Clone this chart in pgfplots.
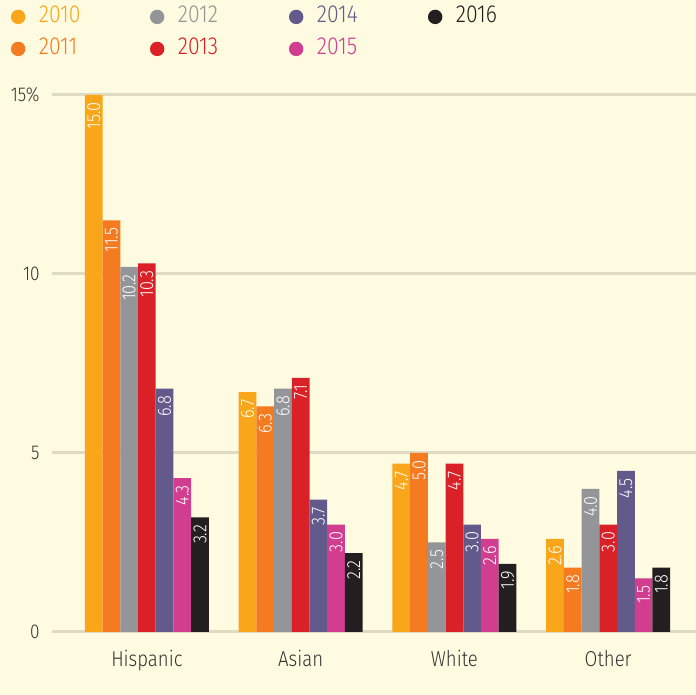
\documentclass[border=0pt]{standalone}
\usepackage{fontspec}
\setmainfont{Fira Sans}[UprightFont=* Light, FakeStretch=0.86]
\usepackage{pgfplots}
\pgfplotsset{compat=1.18}
\definecolor{bg}{HTML}{FFFBE0}
\definecolor{gridc}{HTML}{DEDBC4}
\definecolor{txt}{HTML}{333333}
\definecolor{c2010}{HTML}{F9A61A}
\definecolor{c2011}{HTML}{F47B20}
\definecolor{c2012}{HTML}{939598}
\definecolor{c2013}{HTML}{DA2128}
\definecolor{c2014}{HTML}{635A8C}
\definecolor{c2015}{HTML}{D23E8F}
\definecolor{c2016}{HTML}{231F20}
\pgfplotsset{/pgfplots/ybar legend/.style={/pgfplots/legend image code/.code={\fill[##1] (3.6pt,0pt) circle (3.6pt);}}}
\newcommand{\legtxt}[2]{\hspace*{6.8pt}\makebox[55.5pt][l]{\textcolor{#1}{#2}}}
\begin{document}
\begin{tikzpicture}
\fill[bg] (-26pt,-31.5pt) rectangle (322pt,316pt);
\begin{axis}[
  scale only axis, width=322pt, height=268.5pt,
  at={(0,0)}, anchor=south west,
  xmin=-0.617, xmax=3.571, ymin=0, ymax=15,
  enlargelimits=false, clip=false,
  ybar=0pt, bar width=8.85pt,
  axis line style={draw=none}, major tick length=0pt,
  ymajorgrids, grid style={gridc, line width=1.5pt},
  ytick={0,5,10,15}, yticklabels={0,5,10,15\%},
  yticklabel style={font=\fontsize{10}{11}\selectfont, text=txt, inner sep=0pt, anchor=east, xshift=-6pt},
  xtick={0,1,2,3}, xticklabels={Hispanic,Asian,White,Other},
  xticklabel style={font=\fontsize{10.8}{12}\selectfont, text=txt, inner sep=0pt, anchor=north, yshift=-9pt},
  /pgf/number format/assume math mode=true,
  nodes near coords={\pgfmathprintnumber[fixed,fixed zerofill,precision=1]{\pgfplotspointmeta}},
  every node near coord/.append style={rotate=90, anchor=east, text=white, inner xsep=3.5pt, inner ysep=1pt, font=\fontsize{9.5}{10}\selectfont},
  legend columns=2, transpose legend,
  legend style={at={(-0.0637,1.164)}, anchor=north west, draw=none, fill=none, inner sep=0pt, outer sep=0pt,
    column sep=0pt, row sep=6pt, font=\fontsize{12.3}{13}\selectfont,
    nodes={inner sep=0pt, text height=8pt, text depth=2pt}},
  legend cell align=left,
]
\addplot[fill=c2010, draw=none] coordinates {(0,15.0) (1,6.7) (2,4.7) (3,2.6)};
\addplot[fill=c2011, draw=none] coordinates {(0,11.5) (1,6.3) (2,5.0) (3,1.8)};
\addplot[fill=c2012, draw=none] coordinates {(0,10.2) (1,6.8) (2,2.5) (3,4.0)};
\addplot[fill=c2013, draw=none] coordinates {(0,10.3) (1,7.1) (2,4.7) (3,3.0)};
\addplot[fill=c2014, draw=none] coordinates {(0,6.8) (1,3.7) (2,3.0) (3,4.5)};
\addplot[fill=c2015, draw=none] coordinates {(0,4.3) (1,3.0) (2,2.6) (3,1.5)};
\addplot[fill=c2016, draw=none] coordinates {(0,3.2) (1,2.2) (2,1.9) (3,1.8)};
\legend{\legtxt{c2010}{2010},\legtxt{c2011}{2011},\legtxt{c2012}{2012},\legtxt{c2013}{2013},\legtxt{c2014}{2014},\legtxt{c2015}{2015},\legtxt{c2016}{2016}}
\end{axis}
\pgfresetboundingbox
\path[use as bounding box] (-26pt,-31.5pt) rectangle (322pt,316pt);
\end{tikzpicture}
\end{document}
